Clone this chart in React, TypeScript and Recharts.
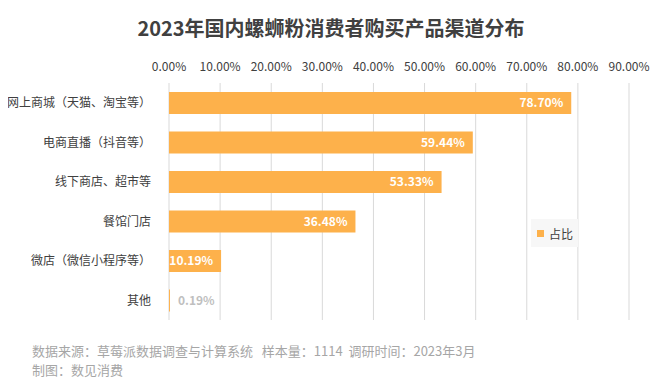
import React from "react";
import { BarChart, Bar, XAxis, YAxis, CartesianGrid, LabelList } from "recharts";

const categories = [
  "网上商城（天猫、淘宝等）",
  "电商直播（抖音等）",
  "线下商店、超市等",
  "餐馆门店",
  "微店（微信小程序等）",
  "其他",
];
const shares = [0.787, 0.5944, 0.5333, 0.3648, 0.1019, 0.0019];
const xTicks = [0, 0.1, 0.2, 0.3, 0.4, 0.5, 0.6, 0.7, 0.8, 0.9];
const seriesName = "占比";

const FONT = "'Microsoft YaHei', 'Noto Sans CJK SC', sans-serif";
const BAR = "#FDB14B";

const data = categories.map((name, i) => ({ name, value: shares[i] }));

function ValueLabel(props: any) {
  const { x, y, width, height, value } = props;
  const text = (value * 100).toFixed(2) + "%";
  const cy = y + height / 2;
  if (width < 20) {
    return (
      <text x={x + width + 8} y={cy} dy="0.35em" fill="#bfbfbf" fontSize={12} fontWeight={700} fontFamily={FONT}>
        {text}
      </text>
    );
  }
  return (
    <text x={x + width - 8} y={cy} dy="0.35em" textAnchor="end" fill="#fff" fontSize={12} fontWeight={700} fontFamily={FONT}>
      {text}
    </text>
  );
}

export default function App() {
  return (
    <div
      style={{
        position: "relative",
        width: 660,
        height: 389,
        margin: -8,
        background: "#fff",
        boxSizing: "border-box",
        border: "1px solid #cfcfcf",
        fontFamily: FONT,
      }}
    >
      <div
        style={{
          position: "absolute",
          top: 12,
          left: 0,
          width: 660,
          textAlign: "center",
          fontSize: 20,
          fontWeight: 700,
          color: "#404040",
        }}
      >
        2023年国内螺蛳粉消费者购买产品渠道分布
      </div>
      <div style={{ position: "absolute", top: -1, left: -1 }}>
        <BarChart
          width={660}
          height={389}
          data={data}
          layout="vertical"
          margin={{ top: 53, right: 31, bottom: 69, left: 9 }}
          barSize={22}
        >
          <CartesianGrid horizontal={false} stroke="#d9d9d9" />
          <XAxis
            type="number"
            orientation="top"
            domain={[0, 0.9]}
            ticks={xTicks}
            tickFormatter={(v: number) => (v * 100).toFixed(2) + "%"}
            axisLine={false}
            tickLine={false}
            tickMargin={6}
            interval={0}
            tick={{ fill: "#404040", fontSize: 12, fontFamily: FONT }}
          />
          <YAxis
            type="category"
            dataKey="name"
            width={160}
            axisLine={false}
            tickLine={false}
            tickMargin={12}
            interval={0}
            tick={{ fill: "#404040", fontSize: 12, fontFamily: FONT }}
          />
          <Bar dataKey="value" name={seriesName} fill={BAR} isAnimationActive={false}>
            <LabelList dataKey="value" content={<ValueLabel />} />
          </Bar>
        </BarChart>
      </div>
      <div
        style={{
          position: "absolute",
          left: 530,
          top: 218,
          background: "#f7f7f7",
          width: 47,
          height: 28,
          display: "flex",
          alignItems: "center",
          gap: 5,
          paddingLeft: 6,
          boxSizing: "border-box",
          fontSize: 12,
          color: "#404040",
        }}
      >
        <span style={{ width: 7, height: 7, background: BAR, display: "inline-block" }} />
        {seriesName}
      </div>
      <div
        style={{
          position: "absolute",
          left: 31,
          top: 340,
          fontSize: 13,
          lineHeight: "19px",
          color: "#a6a6a6",
          whiteSpace: "nowrap",
        }}
      >
        <div>数据来源：草莓派数据调查与计算系统&nbsp;&nbsp;&nbsp;样本量：1114&nbsp;&nbsp;调研时间：2023年3月</div>
        <div>制图：数见消费</div>
      </div>
    </div>
  );
}
